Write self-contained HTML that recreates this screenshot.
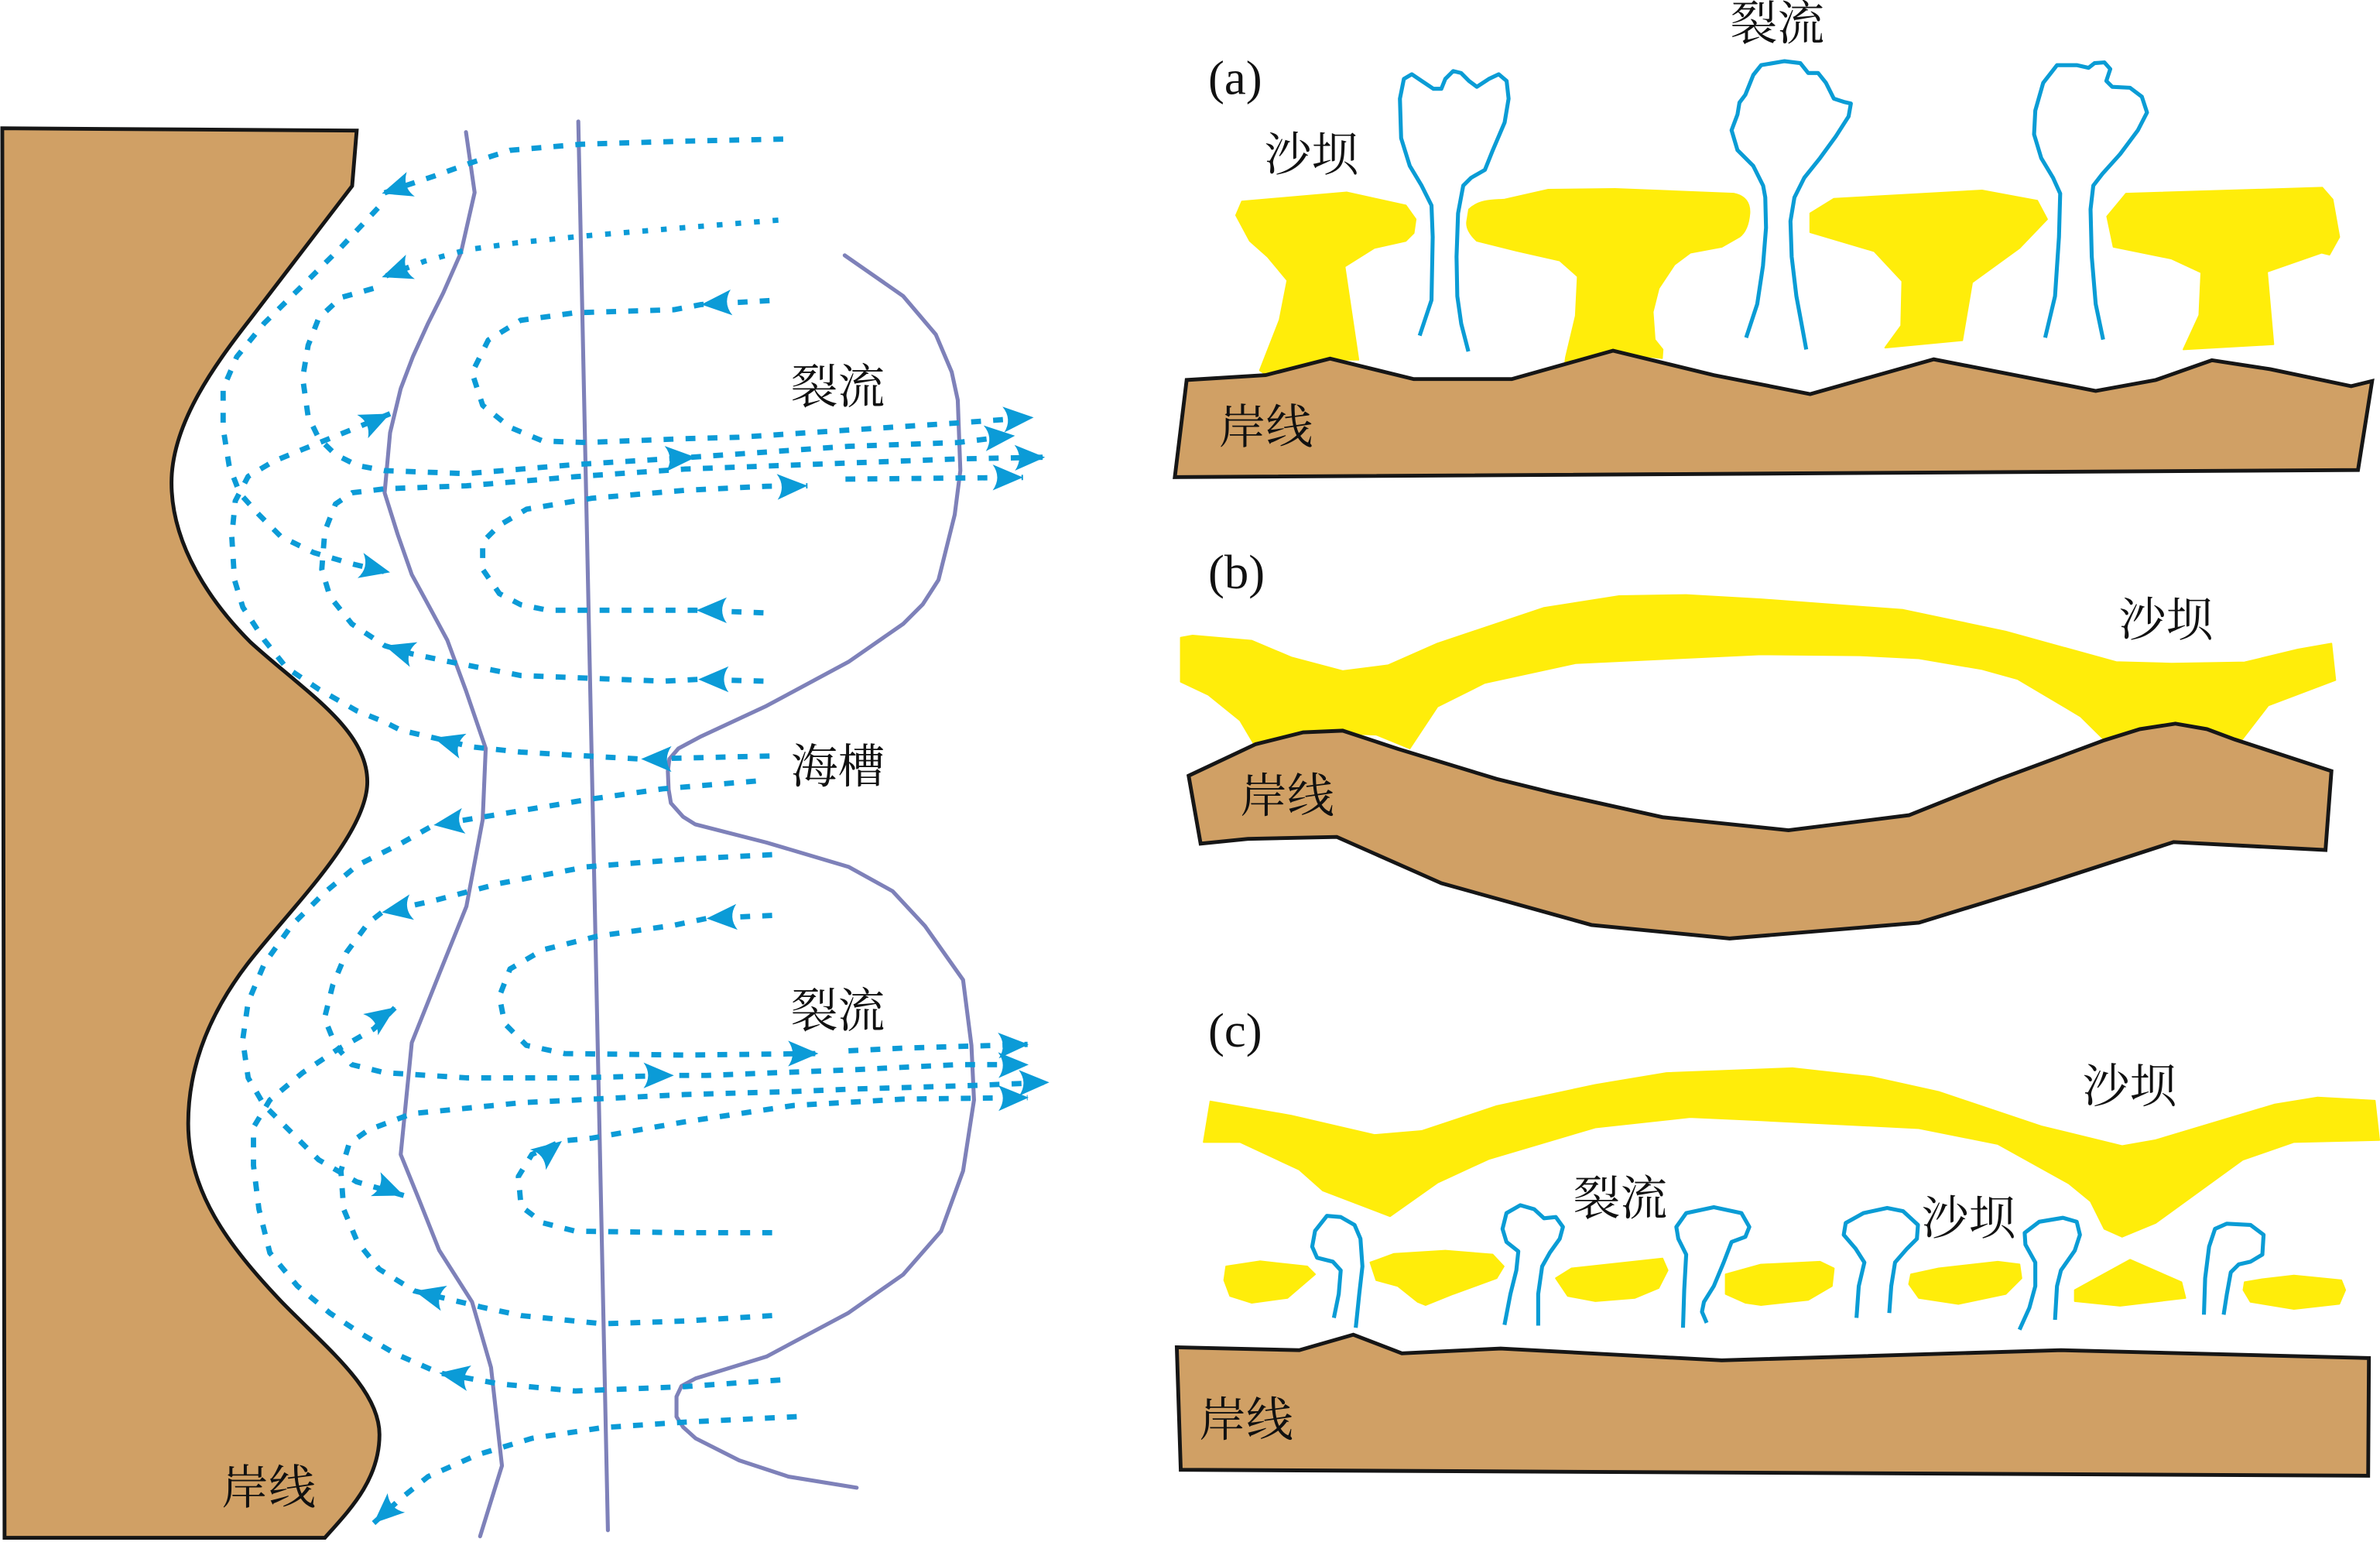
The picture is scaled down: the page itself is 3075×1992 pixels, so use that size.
<!DOCTYPE html>
<html>
<head>
<meta charset="utf-8">
<style>
html,body{margin:0;padding:0;background:#fff;}
svg{display:block;}
.cj{font-family:"Liberation Serif","Noto Serif CJK SC",serif;font-size:31px;fill:#111;}
.lb{font-family:"Liberation Serif","Noto Serif CJK SC",serif;font-size:32px;fill:#111;}
.pl{fill:none;stroke:#7E81B9;stroke-width:2.6;stroke-linejoin:round;stroke-linecap:round;}
.ds{fill:none;stroke:#0B9BD7;stroke-width:3.5;stroke-dasharray:6.5 8;stroke-linejoin:round;}
.dt{fill:none;stroke:#0B9BD7;stroke-width:3.5;stroke-dasharray:3.8 8.5;}
.rp{fill:none;stroke:#0A9CD5;stroke-width:2.6;stroke-linejoin:round;stroke-linecap:butt;}
.br{fill:#D0A065;stroke:#161616;stroke-width:2.5;stroke-linejoin:miter;}
.ye{fill:#FFED0A;stroke:#FFED0A;stroke-width:1;stroke-linejoin:round;}
</style>
</head>
<body>
<svg width="3075" height="1992" viewBox="0 0 1568 1015.75" xmlns="http://www.w3.org/2000/svg">
<defs>
<path id="ah" d="M0,0 L-20,-8.5 Q-14,0 -20,8.5 Z" fill="#0B9BD7"/>
</defs>
<rect x="0" y="0" width="1568" height="1015.75" fill="#fff"/>

<!-- ============ LEFT PANEL ============ -->
<path class="br" stroke-width="2.2" d="M1.5,84.5 L235,86 L232,122.5 L165,210 C140,242 113,280 113,318 C113,360 140,398 165,423 C200,455 242,480 242,515 C242,550 190,600 163,635 C140,665 124,700 124,740 C124,785 150,820 185,857 C215,888 250,915 250,945 C250,975 230,995 214,1013 L3,1013 Z"/>

<!-- purple lines -->
<polyline class="pl" points="307,87 312.7,126.8 303.7,166.4 292,193 282,213 272,235 264,256 257,285 253.4,324.6 262,352 271.3,378.5 283,400 294.7,421.7 307,455 320,493 318,540 307.3,597 290,640 271.3,686.8 264,760.5 276,790 289.3,823.5 311,857.6 323.5,900.8 330.7,965.5 316.3,1012"/>
<line class="pl" x1="381" y1="80" x2="400.5" y2="1008"/>
<polyline class="pl" points="556.5,168.2 595,195 616.5,220.3 627,245 631,263.5 632.7,310 629,339 618.3,382 608,398 595,411 559,436 505,465 462,485 447,493 441,500 440,508 440.5,520 442,529 450,538 458,543 505,555 559,571 588,587 609.4,610 634.5,645.5 640,688.6 641.7,724.6 634.5,771.3 620,811 595,839.6 559,864.8 505,893.6 458.3,908 449,913 445.7,920 445.7,933.2 450,940 458.3,947.5 487,962 519.5,972.7 564.4,980"/>

<!-- dashed flows -->
<path class="ds" stroke-dasharray="9 7" d="M516,91.6 L450,93 L383,95 L336,99 L311,107 L286,116 L262,124 L252,127.5"/>
<path class="ds" d="M249,137 L224.6,163 L199.4,188 L174,213 L156,235 L147,256 L147,282 L151,307 L158,325 L170.6,339 L185,353.4 L206.6,364 L231.8,371.4 L255,377"/>
<path class="dt" d="M512.8,145 L450,150 L383,155.6 L340,160 L307.3,164.6 L280,172 L252,182.6"/>
<path class="ds" d="M246,190 L224.6,196 L210,209.5 L203,227.5 L199.4,249 L203,274.3 L210,288.7 L221,299.4 L235.4,306.6 L253.4,310 L307.3,312 L379,306 L444,302 L472.7,300 L559,294 L631,291.5 L668,287"/>
<path class="ds" d="M507,198 L462,200.6 L444,204 L379,206 L343,211 L321.7,224 L311,245.5 L318,267 L336,281.5 L357.6,290.5 L386.4,291.5 L450,289 L487,288 L559,283.3 L631,278.6 L680,275"/>
<path class="ds" d="M503,448.7 L460,447.5 L437.7,448.7 L343.3,445 L296.5,436 L271.3,430.7 L253.4,425.3 L231.8,411 L217.4,393 L212,375 L214,350 L221,332 L232,324.6 L253.4,322 L307.3,320 L379,314 L451,309 L559,305 L631,302.3 L688,301.2"/>
<path class="ds" d="M503,403.7 L458.8,402 L437,402 L361,402 L343,398.3 L329,391 L318,375 L318,357 L329,346 L347,335.4 L390,328.2 L451,323 L505,320.3 L532,320"/>
<path class="ds" d="M557,315.6 L674,314.5"/>
<path class="ds" d="M507,498 L422.4,500 L404,499 L343,495.4 L311,492 L285.7,486 L264,481 L253.4,475.6 L235.4,468.4 L210,454 L188.6,439.7 L174.2,421.7 L160,400 L154.5,382 L152.7,353.4 L155,330 L163.5,313.8 L180,304 L199.4,296 L235.4,281.5 L257,272.5"/>
<path class="ds" d="M498,514.5 L436.7,519.6 L386.4,526.8 L321.7,537.6 L285.7,543.5 L264.2,555.6 L235.4,570 L213.8,588 L192.2,609.5 L174.2,634.7 L163.5,660 L159.9,685 L163.5,710 L174,728 L192,746 L210,764 L235,778.5 L266,787.5"/>
<path class="ds" d="M508.7,563 L450,566 L386.4,571 L329,582 L285.7,593.3 L251.6,601 L242.6,608 L228.2,627.5 L219.2,649 L213.8,670.7 L221,688.6 L231.8,701.3 L253.4,706.6 L307.3,710 L379,710 L444,708.4 L465.5,708.4 L559,704.8 L631,701.3 L677,701.3"/>
<path class="ds" d="M508.7,603 L465.5,605 L444,609.5 L393.6,616.7 L357.6,625.7 L336,638.3 L329,656.3 L332.5,674.3 L346.8,688.6 L372,694 L451,695 L539,694"/>
<path class="ds" d="M559,692.2 L595,690.4 L677,688"/>
<path class="ds" d="M508.7,866.6 L451,870.2 L397,872 L343.3,866.6 L318,861.2 L273.1,850.4 L249.8,836 L235.4,818 L226.4,796.5 L224.6,771.3 L230,753.4 L242.6,744.4 L271.3,733.6 L343.3,726.4 L451,721 L523,719 L559,717.5 L641.7,715 L691,713"/>
<path class="ds" d="M508.7,812 L451,812 L379,811 L357.6,805.5 L343.3,794.7 L341.5,775 L350.4,760.5 L370.2,751.6 L390,749.7 L451,739 L523,728.2 L595,724 L677,723"/>
<path class="ds" d="M514.1,909 L451,913.4 L379,916.3 L329,911.6 L289.3,904.4 L260.5,891.8 L239,879.2 L217.4,865 L195.8,847 L177.8,825.3 L170.6,796.5 L167,767.7 L167,742.6 L177.8,724.6 L199.4,706.6 L221,692.2 L246.2,677.8 L260.5,663.5"/>
<path class="ds" d="M524.9,933.2 L451,936.8 L397,940.4 L350.4,947.5 L314.5,958.3 L282,972.7 L264.2,987 L246.2,1003.3"/>

<!-- arrowheads -->
<use href="#ah" transform="translate(251.6,127.5) rotate(162)"/>
<use href="#ah" transform="translate(257,377) rotate(13)"/>
<use href="#ah" transform="translate(251.6,182.6) rotate(160)"/>
<use href="#ah" transform="translate(458.3,301.2) rotate(-3)"/>
<use href="#ah" transform="translate(668.7,287) rotate(-5)"/>
<use href="#ah" transform="translate(462,200.6) rotate(176)"/>
<use href="#ah" transform="translate(681,275) rotate(-4)"/>
<use href="#ah" transform="translate(460,447.5) rotate(180)"/>
<use href="#ah" transform="translate(253.4,425.3) rotate(197)"/>
<use href="#ah" transform="translate(688.5,301.2) rotate(-1)"/>
<use href="#ah" transform="translate(458.8,402) rotate(180)"/>
<use href="#ah" transform="translate(532,320) rotate(-2)"/>
<use href="#ah" transform="translate(674,314.5) rotate(0)"/>
<use href="#ah" transform="translate(422.4,500) rotate(180)"/>
<use href="#ah" transform="translate(285.7,486) rotate(196)"/>
<use href="#ah" transform="translate(257,272.5) rotate(-25)"/>
<use href="#ah" transform="translate(285.7,543.5) rotate(172)"/>
<use href="#ah" transform="translate(266,787.5) rotate(22)"/>
<use href="#ah" transform="translate(251.6,601) rotate(170)"/>
<use href="#ah" transform="translate(444,708.4) rotate(0)"/>
<use href="#ah" transform="translate(677.7,701.3) rotate(-1)"/>
<use href="#ah" transform="translate(465.5,605) rotate(177)"/>
<use href="#ah" transform="translate(539.2,694) rotate(0)"/>
<use href="#ah" transform="translate(677.7,688) rotate(-2)"/>
<use href="#ah" transform="translate(273.1,850.4) rotate(194)"/>
<use href="#ah" transform="translate(691.3,713) rotate(-1)"/>
<use href="#ah" transform="translate(370.2,751.6) rotate(-38)"/>
<use href="#ah" transform="translate(677.7,723) rotate(-1)"/>
<use href="#ah" transform="translate(289.3,904.4) rotate(190)"/>
<use href="#ah" transform="translate(260.5,663.5) rotate(-35)"/>
<use href="#ah" transform="translate(246.2,1003.3) rotate(138)"/>

<!-- left labels -->
<text class="cj" x="521" y="265.5">裂流</text>
<text class="cj" x="521" y="515.5">海槽</text>
<text class="cj" x="521" y="676.5">裂流</text>
<text class="cj" x="146" y="990.5">岸线</text>

<!-- ============ PANEL (a) ============ -->
<text class="lb" x="796" y="62">(a)</text>
<text class="cj" x="833" y="112.5">沙坝</text>
<text class="cj" x="1140" y="26">裂流</text>

<polygon class="ye" points="818.2,132.7 887.2,126.7 926.2,135.3 932.7,144.4 931.4,153.5 926.2,158.7 905.4,163.4 885.9,175.6 895,237 876,237 833,246 830,244 843,210.7 848.1,184.7 835.1,169.1 823.4,158.7 814.3,141.8"/>
<path class="ye" d="M967.8,137.9 C975,131 985,132 991.3,131.4 L1020,124.9 L1064.1,124.4 L1142.2,127.5 C1150,129 1153,134 1152.6,140.5 C1152,148 1150,153 1146,156 L1134.4,162.6 L1113.6,166.5 L1103.2,174.3 L1092.8,190 L1088.9,205.5 L1090.2,223.7 L1095.4,230.2 L1095,236 L1062,232 L1031,240 L1031.6,235.4 L1038.1,208.1 L1039.4,182.1 L1027.7,171.7 L999,165.2 L973,158.7 C968,154 966,150 966.5,146 Z"/>
<polygon class="ye" points="1192.6,140.5 1208.2,130.9 1305.8,125.4 1342.2,132.2 1348.7,144.4 1330.5,163.4 1299.3,186 1292.8,224.2 1242,229 1252.5,214.6 1253.2,185.2 1234.8,165.5 1192.6,153"/>
<polygon class="ye" points="1400.7,127.5 1530,123.6 1536.8,131.4 1541.2,156.1 1534.7,167.8 1529.5,166.5 1493.6,179 1497.8,226.8 1438.5,230.2 1448.9,207.6 1450.2,179.5 1430.7,170.4 1392.4,162.6 1388.2,142.6"/>

<polyline class="rp" points="935.3,221.1 943.1,197.7 943.9,156.1 943.1,135.3 936.6,122.3 928.8,109.3 923.1,91 922.3,65 924.9,52 930.1,48.9 936.6,53.3 944.4,58.5 949.6,58.5 952.2,52 957.4,46.8 962.6,48.1 967.8,53.3 973,57.2 980.9,52 987.4,48.9 992.6,53.3 993.9,65 991.3,80.6 983.5,98.9 978.3,111.9 969.2,117.1 964,122.3 960.6,140.5 959.6,169.1 960.1,195.1 962.7,213.3 967.4,231.5"/>
<polyline class="rp" points="1150.4,222.4 1157.7,200.3 1161.5,175 1163.5,150 1163,130 1161.6,122.3 1155.1,109.3 1144.7,98.9 1140.8,85.8 1144.7,75.4 1146,67.6 1149.9,62.4 1155.1,49.4 1160.3,42.9 1175.7,40.3 1186.1,41.6 1191.3,48.1 1197.8,48.1 1203,54.6 1208.2,65 1214.7,67.1 1219.4,68.2 1217.9,76.7 1209.5,89.8 1199.1,104.1 1188.7,117.1 1182.2,130.1 1179.6,145.7 1180.4,169.1 1183.5,195.1 1187.4,216 1190,230.2"/>
<polyline class="rp" points="1347.4,222.4 1353.9,195.1 1356.5,156.1 1357.3,127.5 1352.6,117.1 1344.8,104.1 1340.1,88.5 1340.9,72.8 1346.1,54.6 1355.2,42.9 1368.2,42.9 1376,44.7 1379.9,41.6 1386.4,41.1 1390.3,45.5 1387.7,53.3 1391.6,57.2 1403.3,57.8 1411.1,63.7 1414.5,74.1 1408.5,85.8 1396.8,101.5 1385.1,114.5 1379.1,122.3 1377.3,137.9 1378.1,169.1 1380.7,200.3 1385.6,223.7"/>

<polygon class="br" points="781.8,250.3 833.8,247.1 876.3,236.2 931.4,249.7 996,249.7 1062.7,231 1129.1,247.1 1192.6,259.6 1274,236.7 1380.7,257.5 1420.3,250.3 1457.2,237.3 1495.7,243.2 1549,254.4 1562.8,251 1553.5,309.6 774,314.3"/>
<text class="cj" x="803" y="292">岸线</text>

<!-- ============ PANEL (b) ============ -->
<text class="lb" x="796" y="387.5">(b)</text>
<polygon class="ye" points="777.9,420 785.7,418.6 824.7,422 850.7,433 884.6,442 914.5,438.2 947,423.9 1017.2,400.4 1066.7,392.6 1110.9,391.9 1160.1,394.7 1253.8,401.7 1321.4,416 1394.2,436.1 1430.7,437.1 1478.8,436.3 1513.9,427.8 1536,423.9 1538.6,448 1494.4,464.7 1474.9,490 1389,490 1370.8,472 1357.8,464.2 1329.2,447.3 1305.8,440.8 1264.2,433.7 1225.1,431.7 1160.1,431.1 1038,436.9 978.2,449.9 947,465.5 928.8,493 906.7,484 882,483 827.3,492 817,474.6 796.1,457.7 777.9,449.1"/>
<polygon class="br" points="783.1,511 827.3,490.2 858.6,482.4 884.6,481.3 921,493.3 986,513.1 1025,522.7 1095.3,538.3 1178.3,546.9 1257.7,537 1316.2,513.6 1386.4,487.6 1409.8,480.3 1433.2,476.7 1454,480.3 1472.3,487.1 1536,507.9 1532.1,559.9 1432,554.7 1342.2,583.8 1264.2,607.8 1139.5,618.2 1048.5,609.3 949.6,581.8 880.7,551.3 822.1,552.6 791,555.7"/>
<text class="cj" x="817" y="535">岸线</text>
<text class="cj" x="1396" y="419">沙坝</text>

<!-- ============ PANEL (c) ============ -->
<text class="lb" x="796" y="689.5">(c)</text>
<polygon class="ye" points="797.4,725.5 850.7,734.9 905.4,747.6 936.6,745 986,728.6 1051,714.6 1097.9,706.8 1180.9,703.6 1232.9,709.4 1277.2,719.2 1344.8,741.9 1398.1,754.9 1420.2,751 1498.3,727.6 1526.9,722.9 1564.6,725 1567.5,751 1511.3,752.3 1477.5,764 1420.2,805.6 1398.1,814.7 1386.4,809.5 1377.3,791.3 1363,779.6 1316.2,753.6 1264.2,743.2 1160.1,738 1113.5,735.9 1051,742.7 980.8,763.5 947,779.1 915.8,801.2 871.6,784.3 856,770.5 817,752.3 793,752.3"/>
<text class="cj" x="1372" y="726">沙坝</text>
<text class="cj" x="1036.5" y="800">裂流</text>
<text class="cj" x="1266" y="813">沙坝</text>

<polygon class="ye" points="806.5,843.3 807.8,834.2 830,830.8 861.2,834.2 866.4,839.4 848.2,855 824.7,858.2 810.4,853.7"/>
<polygon class="ye" points="902.8,831.6 918.4,825.9 952.2,823.8 983.4,826.4 990.7,834.2 986,842 957.4,852.4 939.2,859.7 934,857.6 921,847.2 906.7,843.3"/>
<polygon class="ye" points="1025,842 1035.4,835.5 1095.3,829 1098.7,836.8 1092.7,848.5 1077.1,855 1051.1,857.1 1032.9,853.7"/>
<polygon class="ye" points="1136.9,839.4 1160,833 1199.1,831.1 1208.2,835.5 1206.9,847.2 1191.3,856.3 1160,859.7 1149.9,858.2 1136.9,852.4"/>
<polygon class="ye" points="1259,839.4 1277.2,835.5 1316.2,831.1 1330.5,832.9 1331.8,842 1321.4,852.4 1290.2,859 1264.2,855 1257.7,845.9"/>
<polygon class="ye" points="1366.9,849.8 1403.3,829.8 1437.2,844.6 1439.8,855 1396.8,860.2 1366.9,857.1"/>
<polygon class="ye" points="1478.8,844.6 1490.5,842.6 1511.3,840.2 1542.5,843.3 1545.1,849.8 1541.2,858.9 1511.3,862.3 1482.7,857.6 1478,849.8"/>

<polyline class="rp" points="878.8,868.1 882,852.4 883.3,836.8 878.1,831.1 867.7,828.5 864.5,821.2 866.4,810.8 874.2,800.9 883.3,801.7 892.4,806.9 896.3,816 897.6,834.2 895.5,852.4 893.2,874.6"/>
<polyline class="rp" points="991.2,872.7 995.1,852.4 999,836.8 1000.3,824.3 992.5,818.1 989.9,809.5 992.5,799.1 1001.6,793.9 1010.7,796.5 1017.2,802.5 1025,801.7 1029.7,808.2 1027.6,816 1021.1,825.1 1016,834.2 1013.4,852.4 1013.4,873.2"/>
<polyline class="rp" points="1108.8,874.6 1109.6,849.8 1110.9,826.4 1105.7,816 1104.4,808.2 1110.9,799.1 1129.1,795.2 1147.3,799.1 1152.5,808.2 1149.9,814.7 1140.8,818.1 1135.6,831.6 1129.1,847.2 1122.6,857.6 1121.3,864.1 1124.4,871.4"/>
<polyline class="rp" points="1223.1,868.1 1224.6,847.2 1228.3,831.6 1222.5,822.5 1214.7,813.4 1216,805.6 1227.7,799.1 1243.3,795.7 1253.8,797.8 1263.6,806.9 1262.9,816 1256.4,822.5 1248.5,831.6 1246,847.2 1244.7,864.9"/>
<polyline class="rp" points="1330.5,875.9 1337,861.5 1340.9,847.2 1340.9,831.6 1334.4,819.9 1333.9,812.1 1343.5,804.8 1359.1,802.2 1368.2,804.8 1370.3,813.4 1366.9,823.8 1357.8,836.8 1355.2,847.2 1353.9,869.4"/>
<polyline class="rp" points="1452,866 1452.8,842 1455.4,821.2 1459.3,809.5 1467,806.1 1482.7,806.9 1491.3,813.4 1490.5,826.4 1482.7,831.1 1474.9,832.9 1469.7,838.1 1467.1,852.4 1465,866"/>

<polygon class="br" points="775.3,887.5 856,889.4 891.6,879.2 923.6,891.5 988.6,888.3 1134.3,896.1 1357.8,889.4 1560.7,894.6 1560.2,972.1 777.9,968.2"/>
<text class="cj" x="790" y="946">岸线</text>
</svg>
</body>
</html>
